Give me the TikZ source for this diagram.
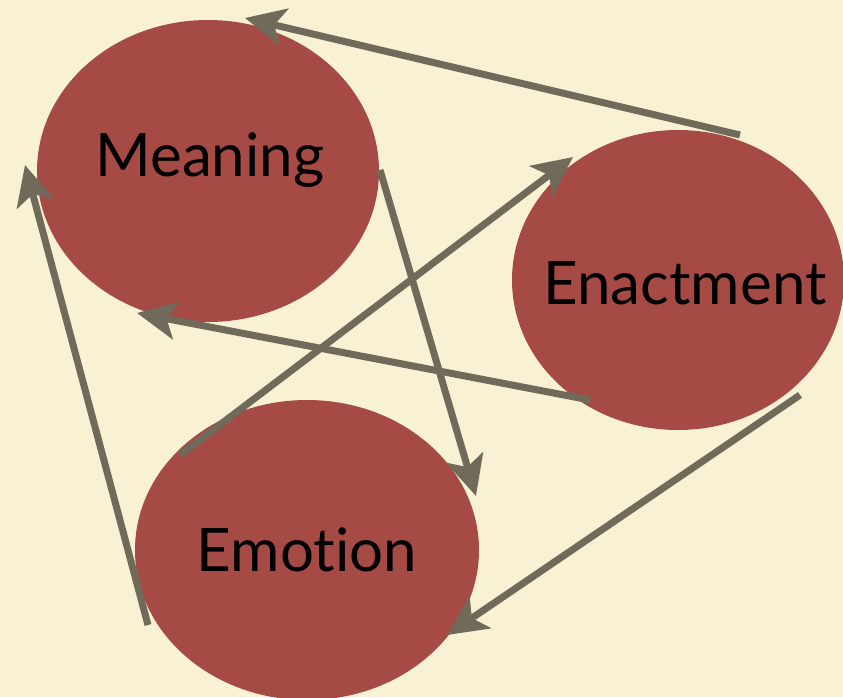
\documentclass[tikz,border=0pt]{standalone}
\usepackage{fontspec}
\setmainfont[Ligatures=NoCommon]{Lato}
\usetikzlibrary{arrows.meta}
\definecolor{bgc}{HTML}{F9F1D4}
\definecolor{ellc}{HTML}{A54A45}
\definecolor{arrc}{HTML}{6F6A5A}
\tikzset{
  lbl/.style={font=\fontsize{60}{62}\selectfont, text=black},
  conn/.style={draw=arrc, line width=7pt, -{Stealth[length=40pt, width=38pt, inset=10pt]}},
}
\begin{document}
\begin{tikzpicture}[x=1pt, y=-1pt]
\fill[bgc] (0,0) rectangle (843,697);
\useasboundingbox (0,0) rectangle (843,697);
\fill[ellc] (208,171) ellipse [x radius=171, y radius=151];
\fill[ellc] (678,280) ellipse [x radius=166, y radius=150];
\fill[ellc] (307,550) ellipse [x radius=172, y radius=150];
\node[lbl] (meaning) at (210,160) {Meaning};
\node[lbl] (enact) at (685,283) {Enactment};
\node[lbl] (emotion) at (307,550) {Emotion};
\coordinate (a1s) at (740,135); \coordinate (a1e) at (245,18);
\coordinate (a2s) at (180,455); \coordinate (a2e) at (573,157);
\coordinate (a3s) at (380,170); \coordinate (a3e) at (476,496);
\coordinate (a4s) at (590,400); \coordinate (a4e) at (137,313);
\coordinate (a5s) at (148,625); \coordinate (a5e) at (25,165);
\coordinate (a6s) at (800,395); \coordinate (a6e) at (447,635);
\draw[conn] (a1s) -- (a1e);
\draw[conn] (a2s) -- (a2e);
\draw[conn] (a3s) -- (a3e);
\draw[conn] (a4s) -- (a4e);
\draw[conn] (a5s) -- (a5e);
\draw[conn] (a6s) -- (a6e);
\end{tikzpicture}
\end{document}
